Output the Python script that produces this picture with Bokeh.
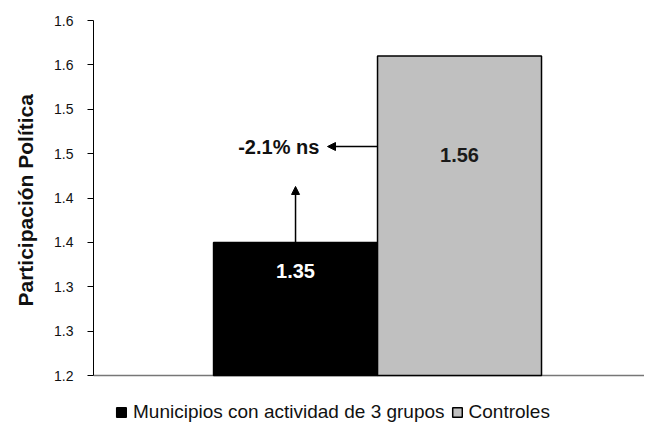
from bokeh.plotting import figure
from bokeh.models import (ColumnDataSource, Range1d, FixedTicker, Legend, LegendItem,
                          Arrow, NormalHead, Title)
from bokeh.core.properties import value
from bokeh.embed import file_html
from bokeh.resources import INLINE

# ---- data ----
categories = ["Municipios con actividad de 3 grupos", "Controles"]
values = [1.35, 1.56]
value_labels = ["1.35", "1.56"]
bar_colors = ["#000000", "#C0C0C0"]
label_colors = ["#FFFFFF", "#1A1A1A"]
y_ticks = [1.20, 1.25, 1.30, 1.35, 1.40, 1.45, 1.50, 1.55, 1.60]
y_tick_labels = ["1.2", "1.3", "1.3", "1.4", "1.4", "1.5", "1.5", "1.6", "1.6"]
y_title = "Participación Política"
diff_text = "-2.1% ns"
y_min, y_max = 1.2, 1.6

FONT = "Liberation Sans"

xs = list(range(len(categories)))

# frame extends below the value axis so the legend can sit inside it
px_per_unit = 355 / (y_max - y_min)
extra = 53 / px_per_unit

p = figure(frame_width=551, frame_height=408, output_backend="svg", toolbar_location=None,
           x_range=Range1d(-1.232, 2.128), y_range=Range1d(y_min - extra, y_max),
           min_border_left=88, min_border_right=0, min_border_top=20,
           min_border_bottom=0, outline_line_color=None)
p.background_fill_color = "white"

# bars
renderers = []
for i in xs:
    src = ColumnDataSource(dict(x=[xs[i]], top=[values[i]]))
    r = p.vbar(x="x", top="top", bottom=y_min, width=1.0, source=src,
               fill_color=bar_colors[i], line_color="#000000", line_width=1.5)
    renderers.append(r)

# value labels inside bars
label_y = [values[0] - 0.032, values[1] - 0.112]
lab_src = ColumnDataSource(dict(x=xs, y=label_y, t=value_labels, c=label_colors))
p.text(x="x", y="y", text="t", text_color="c", source=lab_src,
       text_font=value(FONT), text_font_size="20px", text_font_style="bold",
       text_align="center", text_baseline="middle")

# annotation arrows and text
arrow_y = 1.458
p.add_layout(Arrow(end=NormalHead(size=8, fill_color="black", line_color="black"),
                   x_start=xs[1] - 0.5, y_start=arrow_y, x_end=0.195, y_end=arrow_y,
                   line_width=1.5, line_color="black"))
p.add_layout(Arrow(end=NormalHead(size=8, fill_color="black", line_color="black"),
                   x_start=xs[0], y_start=values[0], x_end=xs[0], y_end=1.413,
                   line_width=1.5, line_color="black"))
p.text(x=[0.145], y=[arrow_y], text=[diff_text], text_color="#111111",
       text_font=value(FONT), text_font_size="20px", text_font_style="bold",
       text_align="right", text_baseline="middle")

# axes
p.yaxis.ticker = FixedTicker(ticks=y_ticks)
p.yaxis.bounds = (y_min, y_max)
p.yaxis.major_label_overrides = {t: l for t, l in zip(y_ticks, y_tick_labels)}
p.yaxis.major_label_text_font = FONT
p.yaxis.major_label_text_font_size = "14px"
p.yaxis.major_label_text_color = "#111111"
p.yaxis.major_tick_out = 6
p.yaxis.major_tick_in = 0
p.yaxis.minor_tick_line_color = None
p.yaxis.major_label_standoff = 14
p.yaxis.axis_line_color = "black"
p.yaxis.major_tick_line_color = "black"

# axis title, positioned along the value axis (centred on 1.2-1.6, not on the frame)
p.add_layout(Title(text=y_title, align="left", offset=122, vertical_align="top",
                   text_font=FONT, text_font_size="21px", text_font_style="bold",
                   text_color="#111111", standoff=26), "left")

p.xaxis.visible = False

p.xgrid.grid_line_color = None
p.ygrid.ticker = FixedTicker(ticks=[y_min, y_max])
p.ygrid.grid_line_color = "#777777"
p.ygrid.grid_line_width = 1.5

legend = Legend(items=[LegendItem(label=categories[i], renderers=[renderers[i]]) for i in xs],
                orientation="horizontal", location=(22, 5),
                border_line_color=None, background_fill_alpha=0,
                label_text_font=FONT, label_text_font_size="19px",
                label_text_color="#111111",
                glyph_width=12, glyph_height=12, label_standoff=6, spacing=6,
                padding=0, margin=0)
p.add_layout(legend, "center")

open("out.html", "w").write(file_html(p, INLINE))
